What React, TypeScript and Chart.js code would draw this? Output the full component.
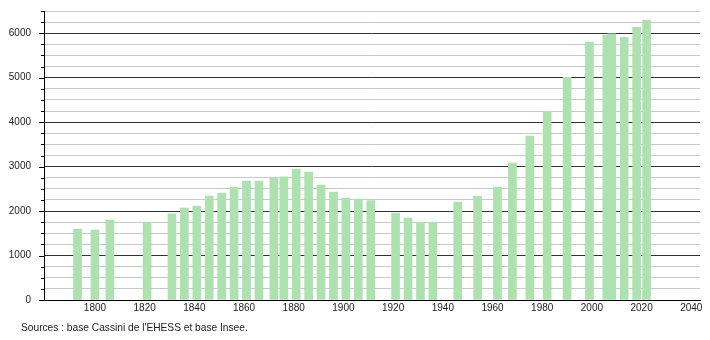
import React, { useEffect, useRef } from "react";
import { Chart, registerables } from "chart.js";

Chart.register(...registerables);

const years = [1793, 1800, 1806, 1821, 1831, 1836, 1841, 1846, 1851, 1856, 1861, 1866, 1872, 1876, 1881, 1886, 1891, 1896, 1901, 1906, 1911, 1921, 1926, 1931, 1936, 1946, 1954, 1962, 1968, 1975, 1982, 1990, 1999, 2006, 2008, 2013, 2018, 2022];
const population = [1595, 1575, 1800, 1750, 1940, 2065, 2110, 2335, 2405, 2540, 2675, 2675, 2740, 2770, 2945, 2875, 2585, 2430, 2295, 2270, 2235, 1955, 1845, 1750, 1750, 2200, 2340, 2540, 3080, 3685, 4245, 5010, 5800, 5960, 5985, 5905, 6135, 6295];
const xTickLabels = [1800, 1820, 1840, 1860, 1880, 1900, 1920, 1940, 1960, 1980, 2000, 2020, 2040];
const yMajorStep = 1000;
const yMinorStep = 250;
const sourceText = "Sources : base Cassini de l'EHESS et base Insee.";

const FONT = "'Liberation Sans', Arial, sans-serif";

const tickMarks = {
  id: "tickMarks",
  afterDraw(chart: any) {
    const ys = chart.scales.y;
    const ctx = chart.ctx;
    const left = chart.chartArea.left;
    ctx.save();
    ctx.strokeStyle = "#000";
    ctx.lineWidth = 1;
    for (const t of ys.ticks) {
      const py = Math.round(ys.getPixelForValue(t.value)) + 0.5;
      const len = t.value % yMajorStep === 0 ? 5 : 3;
      ctx.beginPath();
      ctx.moveTo(left - len, py);
      ctx.lineTo(left, py);
      ctx.stroke();
    }
    ctx.restore();
  },
};

export default function App() {
  const ref = useRef<HTMLCanvasElement | null>(null);
  useEffect(() => {
    if (!ref.current) return;
    const chart = new Chart(ref.current, {
      type: "bar",
      data: {
        datasets: [
          {
            data: years.map((y, i) => ({ x: y, y: population[i] })),
            backgroundColor: "rgb(174,225,176)",
            borderWidth: 0,
            barThickness: 8,
          },
        ],
      },
      options: {
        animation: false,
        responsive: false,
        devicePixelRatio: 1,
        layout: { padding: { top: 11, right: 10, bottom: 0, left: 0 } },
        plugins: { legend: { display: false }, tooltip: { enabled: false } },
        scales: {
          x: {
            type: "linear",
            offset: false,
            min: 1779.5,
            max: 2043.5,
            grid: { display: false, drawTicks: false },
            border: { display: true, color: "#000", width: 1 },
            afterBuildTicks: (scale: any) => {
              scale.ticks = xTickLabels.map((v) => ({ value: v }));
            },
            afterFit: (scale: any) => {
              scale.height = 40;
              scale.paddingLeft = 0;
              scale.paddingRight = 0;
            },
            ticks: {
              autoSkip: false,
              maxRotation: 0,
              padding: 2.5,
              color: "#222",
              font: { family: FONT, size: 10 },
              callback: (v: any) => String(v),
            },
          },
          y: {
            min: 0,
            max: 6500,
            afterFit: (scale: any) => {
              scale.width = 44;
              scale.paddingTop = 0;
              scale.paddingBottom = 0;
            },
            border: { display: true, color: "#000", width: 1 },
            grid: {
              drawTicks: false,
              color: (c: any) => (c.tick && c.tick.value % yMajorStep === 0 ? "#333" : "#c8c8c8"),
              lineWidth: 1,
            },
            ticks: {
              stepSize: yMinorStep,
              autoSkip: false,
              padding: 13,
              color: "#222",
              font: { family: FONT, size: 10 },
              callback: (v: any) => (Number(v) % yMajorStep === 0 ? String(v) : ""),
            },
          },
        },
      },
      plugins: [tickMarks],
    } as any);
    return () => chart.destroy();
  }, []);

  return (
    <div style={{ position: "absolute", left: 0, top: 0, width: 710, height: 340, background: "#fff" }}>
      <canvas ref={ref} width={710} height={340} style={{ display: "block" }} />
      <div
        style={{
          position: "absolute",
          left: 21,
          top: 322,
          fontFamily: FONT,
          fontSize: 10.2,
          color: "#222",
          whiteSpace: "nowrap",
        }}
      >
        {sourceText}
      </div>
    </div>
  );
}
